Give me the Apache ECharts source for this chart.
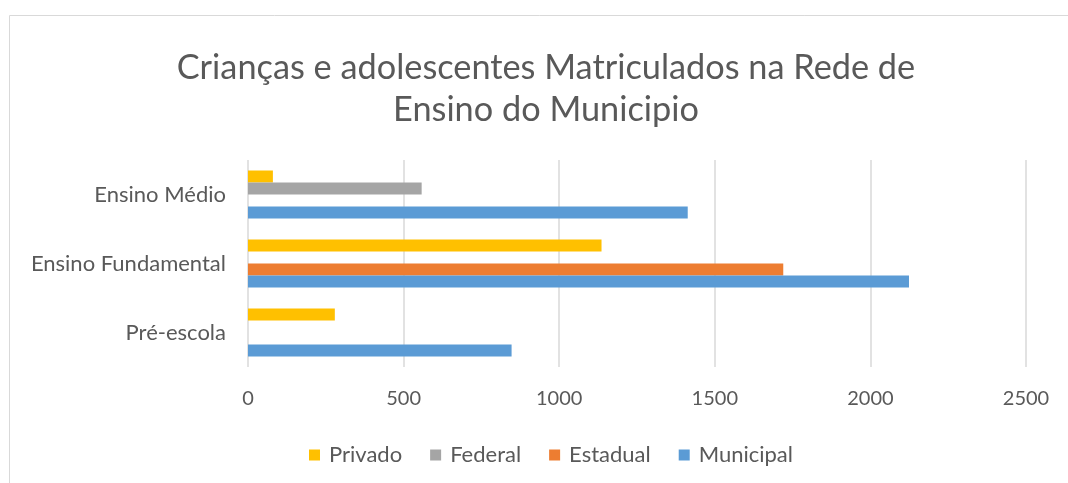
<!DOCTYPE html>
<html><head><meta charset="utf-8">
<script src="https://cdn.jsdelivr.net/npm/echarts@6/dist/echarts.min.js"></script>
<style>html,body{margin:0;padding:0;background:#fff}#c{width:1068px;height:483px}</style>
</head><body><div id="c"></div>
<script>
const categories = ['Pré-escola', 'Ensino Fundamental', 'Ensino Médio'];
const privado = [279, 1136, 80];
const federal = [null, null, 558];
const estadual = [null, 1720, null];
const municipal = [847, 2124, 1413];
const xTicks = [0, 500, 1000, 1500, 2000, 2500];
const titleText = 'Crianças e adolescentes Matriculados na Rede de\nEnsino do Municipio';

const FONT = 'Lato';
const TXT = '#595959';
const chart = echarts.init(document.getElementById('c'));
const mk = (name, data, color) => ({
  name, type: 'bar', data, barWidth: 12, barGap: '0%',
  itemStyle: { color }, animation: false
});
chart.setOption({
  animation: false,
  graphic: [{ type: 'rect', shape: { x: 9.5, y: 15.5, width: 1100, height: 500 },
    style: { fill: 'none', stroke: '#d9d9d9', lineWidth: 1 } }],
  title: { text: titleText, left: 541, textAlign: 'center', top: 42,
    textStyle: { fontFamily: FONT, fontSize: 34.3, fontWeight: 'normal', color: TXT, lineHeight: 42 } },
  legend: { data: ['Privado', 'Federal', 'Estadual', 'Municipal'], left: 304, top: 439,
    itemWidth: 11, itemHeight: 11, itemGap: 28, icon: 'rect',
    textStyle: { fontFamily: FONT, fontSize: 22, color: TXT, padding: [0, 0, 0, 4] } },
  grid: { left: 248, right: 42, top: 160, bottom: 116 },
  xAxis: { type: 'value', min: xTicks[0], max: xTicks[xTicks.length - 1], interval: 500,
    axisLine: { show: false }, axisTick: { show: false },
    splitLine: { lineStyle: { color: '#d9d9d9', width: 1.5 } },
    axisLabel: { fontFamily: FONT, fontSize: 20, color: TXT, margin: 22, formatter: v => String(v) } },
  yAxis: { type: 'category', data: categories,
    axisLine: { show: false }, axisTick: { show: false },
    axisLabel: { fontFamily: FONT, fontSize: 22, color: TXT, margin: 22 } },
  series: [
    mk('Privado', privado, '#FFC000'),
    mk('Federal', federal, '#A5A5A5'),
    mk('Estadual', estadual, '#ED7D31'),
    mk('Municipal', municipal, '#5B9BD5')
  ]
});
</script></body></html>
